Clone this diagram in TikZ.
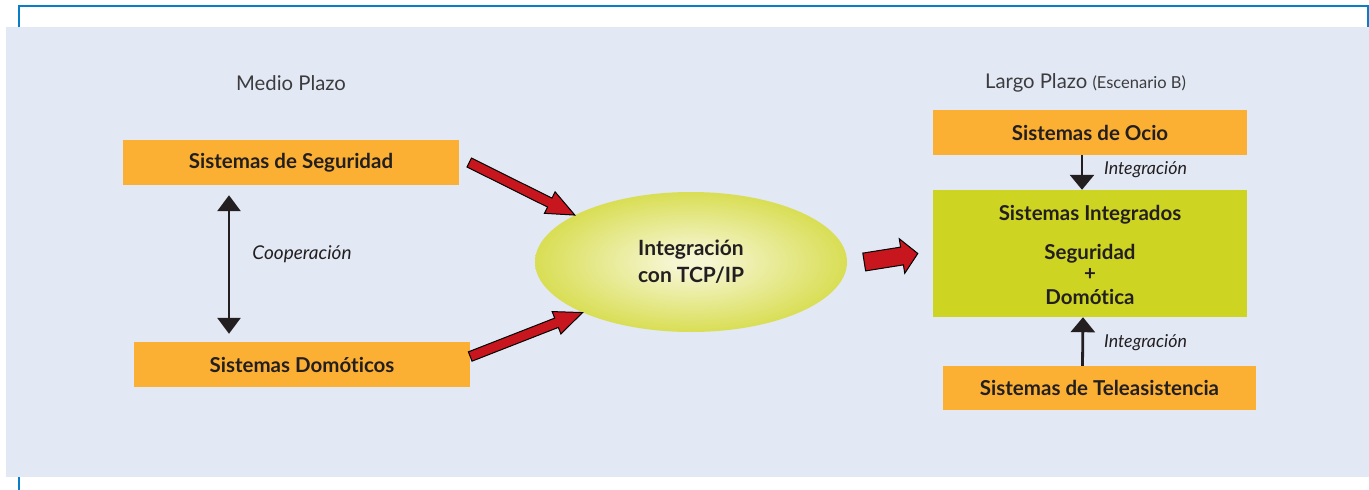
\documentclass[tikz,border=0pt]{standalone}
\usepackage{fontspec}
\setmainfont[Ligatures=NoCommon]{Lato}
\usetikzlibrary{arrows.meta,shapes.geometric,calc}
\definecolor{bgc}{RGB}{226,232,244}
\definecolor{framec}{RGB}{10,125,200}
\definecolor{orangec}{RGB}{251,176,52}
\definecolor{greenc}{RGB}{205,212,33}
\definecolor{lightc}{RGB}{246,246,210}
\definecolor{redc}{RGB}{200,22,30}
\definecolor{txt}{RGB}{35,31,32}
\definecolor{headc}{RGB}{60,60,62}
\pgfdeclareradialshading{ellshade}{\pgfpoint{0bp}{0bp}}{color(0bp)=(lightc); color(3bp)=(lightc); color(34bp)=(greenc); color(50bp)=(greenc)}
\tikzset{
  obox/.style={fill=orangec, inner sep=0pt, text=txt, font=\bfseries\fontsize{20.5}{24}\selectfont},
  gtext/.style={inner sep=0pt, text=txt, font=\bfseries\fontsize{20.5}{24}\selectfont},
  head/.style={text=headc, inner sep=0pt, font=\fontsize{20.3}{24}\selectfont},
  lab/.style={text=txt, inner sep=0pt, font=\itshape\fontsize{17.8}{21}\selectfont},
  intarr/.style={draw=txt, line width=2.8pt, -{Triangle[width=24pt,length=15pt]}},
  coop/.style={draw=txt, line width=2.8pt, {Triangle[width=23pt,length=16pt]}-{Triangle[width=23pt,length=16pt]}},
  redarrow/.style={fill=redc, draw=black, line width=1pt, line join=miter}
}
\newcommand\blockarr[5]{%
  \draw[redarrow] let \p1=(#1), \p2=(#2),
    \n1={atan2(\y2-\y1,\x2-\x1)}, \n2={veclen(\x2-\x1,\y2-\y1)} in
    [shift={(\p1)}, rotate=\n1]
    (0pt,{#3*1pt}) -- ({(\n2-#5)*1pt},{#3*1pt}) -- ({(\n2-#5)*1pt},{#4*1pt})
    -- ({\n2*1pt},0pt) -- ({(\n2-#5)*1pt},{-#4*1pt}) -- ({(\n2-#5)*1pt},{-#3*1pt})
    -- (0pt,{-#3*1pt}) -- cycle;}
\begin{document}
\begin{tikzpicture}[x=1pt,y=-1pt]
\useasboundingbox (0,0) rectangle (1369,490);
% frame and background
\fill[bgc] (6,27) rectangle (1369,477);
\draw[framec, line width=2.2pt] (19,27) -- (19,6) -- (1369,6);
\draw[framec, line width=1.2pt] (1368,6) -- (1368,27);
\draw[framec, line width=2.2pt] (19,477) -- (19,490);
% headings
\node[head] (mp) at (291,83) {Medio Plazo};
\node[head] (lp) at (1085.5,83) {Largo Plazo {\fontsize{16.5}{20}\selectfont (Escenario B)}};
% left boxes
\node[obox, minimum width=336pt, minimum height=45pt] (seg) at (291,162.5) {Sistemas de Seguridad};
\node[obox, minimum width=336pt, minimum height=45pt] (dom) at (302,364.5) {Sistemas Domóticos};
\draw[coop] ([xshift=-62pt,yshift=-10pt]seg.south) -- ([xshift=-73pt,yshift=8pt]dom.north);
\node[lab, font=\itshape\fontsize{19}{22}\selectfont] (coopl) at (302,254) {Cooperación};
% ellipse
\node[ellipse, minimum width=312pt, minimum height=140pt, inner sep=0pt, shading=ellshade,
      align=center, text=txt, font=\bfseries\fontsize{21}{27}\selectfont] (ell) at (691,262)
      {Integración\\con TCP/IP};
% right boxes
\node[obox, minimum width=314pt, minimum height=45pt] (ocio) at (1090,132.5) {Sistemas de Ocio};
\node[fill=greenc, minimum width=314pt, minimum height=127pt, inner sep=0pt] (integ) at (1090,253.5) {};
\node[gtext] (t1) at (1090,215) {Sistemas Integrados};
\node[gtext] (t2) at (1090,254) {Seguridad};
\node[gtext] (t3) at (1090,274) {+};
\node[gtext] (t4) at (1090,297) {Domótica};
\node[obox, minimum width=313pt, minimum height=44pt] (tele) at (1099.5,388) {Sistemas de Teleasistencia};
\draw[intarr] ([xshift=-8pt]ocio.south) -- ([xshift=-8pt]integ.north);
\draw[intarr] ([xshift=-17pt]tele.north) -- ([xshift=-7pt]integ.south);
\node[lab] (il1) at (1145.5,170) {Integración};
\node[lab] (il2) at (1145.5,343) {Integración};
% red block arrows
\coordinate (r1s) at ([xshift=10pt]seg.east);
\coordinate (r2s) at ([yshift=8pt]dom.east);
\coordinate (r3s) at ([xshift=17pt]ell.east);
\coordinate (r3e) at ([xshift=-15pt]integ.west);
\blockarr{r1s}{ell.158}{5}{12}{28}
\blockarr{r2s}{ell.205}{5}{12}{28}
\blockarr{r3s}{r3e}{9}{17.5}{16}
\end{tikzpicture}
\end{document}
